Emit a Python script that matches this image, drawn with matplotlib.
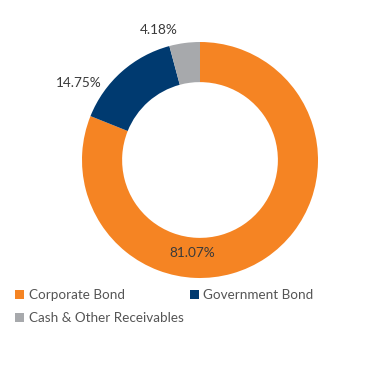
import numpy as np
import matplotlib.pyplot as plt

plt.rcParams['font.family'] = ['Lato', 'DejaVu Sans']

# data
categories = ['Corporate Bond', 'Government Bond', 'Cash & Other Receivables']
values = [81.07, 14.75, 4.18]
colors = ['#F58423', '#003A70', '#A7A9AC']
labels = ['81.07%', '14.75%', '4.18%']

# where each percentage label sits (angle in degrees, radius)
label_pos = [(-95, 0.79), (147.7, 1.22), (107.5, 1.155)]

fig = plt.figure(figsize=(3.69, 3.90), dpi=100)
ax = fig.add_axes([82 / 369, (390 - 278) / 390, 236 / 369, 236 / 390])

wedges, _ = ax.pie(values, colors=colors, startangle=90, counterclock=False,
                   radius=1.0, wedgeprops=dict(width=0.34, edgecolor='none'))
ax.set_xlim(-1, 1)
ax.set_ylim(-1, 1)
ax.set_aspect('equal')
ax.axis('off')

for (ang, r), txt in zip(label_pos, labels):
    a = np.deg2rad(ang)
    ax.text(r * np.cos(a), r * np.sin(a), txt, ha='center', va='center',
            fontsize=9.8, color='#3a3a3a')

# legend fills column-wise, so reorder to read row by row
order = [0, 2, 1]
leg = fig.legend([wedges[i] for i in order], [categories[i] for i in order],
                 ncol=2, loc='upper left',
                 bbox_to_anchor=(10 / 369, 1 - 284 / 390), frameon=False,
                 prop=dict(size=9.7),
                 handlelength=0.65, handleheight=0.65,
                 handletextpad=0.35, columnspacing=0.45, labelspacing=0.8,
                 borderaxespad=0)
for t in leg.get_texts():
    t.set_color('#555555')

fig.savefig('out.png', dpi=100)
